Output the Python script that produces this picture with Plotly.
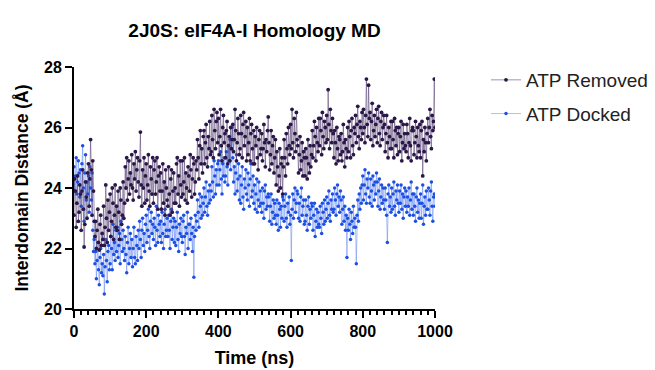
import plotly.graph_objects as go

time_ns = list(range(0, 1001, 2))

atp_removed = [
    23.1, 24.3, 23.9, 22.7, 23.5, 24.4, 22.9, 23.2, 24.1, 23.8,
    22.6, 23.9, 24.6, 23.3, 22.05, 22.8, 24.2, 23.7, 23.0, 24.5,
    24.8, 23.4, 24.3, 25.6, 24.6, 23.1, 24.9, 23.9, 22.9, 22.4,
    22.9, 22.0, 22.6, 23.3, 22.2, 21.95, 22.8, 23.1, 22.1, 22.5,
    22.3, 23.4, 22.1, 22.7, 24.1, 23.0, 22.2, 23.6, 22.6, 23.2,
    23.8, 22.4, 22.9, 24.0, 23.5, 22.3, 23.1, 24.1, 22.7, 23.4,
    22.6, 23.9, 23.2, 22.3, 24.0, 23.6, 22.8, 23.1, 24.2, 23.0,
    23.5, 24.7, 24.0, 25.0, 23.6, 24.3, 24.9, 23.8, 24.5, 24.1,
    25.1, 24.0, 23.6, 24.8, 24.3, 25.2, 23.9, 24.6, 25.0, 24.2,
    23.7, 24.9, 25.85, 24.1, 23.4, 24.6, 24.0, 25.0, 23.5, 24.4,
    24.8, 23.6, 24.1, 25.1, 23.9, 23.4, 24.7, 24.3, 23.8, 25.0,
    23.5, 24.6, 24.9, 23.8, 24.2, 25.0, 23.3, 24.4, 24.7, 23.9,
    24.5, 23.3, 23.9, 24.8, 23.5, 24.2, 23.1, 24.6, 24.0, 23.6,
    23.4, 24.7, 23.8, 23.1, 24.3, 24.6, 23.2, 23.9, 24.5, 23.5,
    24.0, 23.5, 24.8, 25.0, 23.8, 24.4, 23.4, 24.9, 24.1, 23.7,
    24.9, 23.8, 24.2, 25.0, 23.6, 24.5, 24.0, 23.5, 24.7, 24.4,
    23.9, 25.1, 24.6, 23.7, 24.3, 25.0, 24.8, 23.8, 24.2, 24.9,
    24.6, 25.6, 25.0, 24.3, 25.4, 25.9, 24.8, 25.3, 24.5, 25.7,
    25.9, 24.8, 25.5, 26.1, 25.0, 24.7, 25.7, 25.3, 26.2, 25.1,
    25.2, 26.4, 25.6, 25.0, 26.6, 25.9, 25.3, 26.2, 26.5, 25.5,
    26.3, 25.1, 25.7, 26.6, 25.4, 24.9, 26.0, 26.4, 25.5, 25.8,
    25.0, 25.9, 26.2, 24.8, 25.4, 25.7, 24.9, 26.0, 25.3, 25.6,
    26.1, 25.2, 25.6, 26.6, 25.9, 24.9, 25.5, 26.3, 25.8, 25.1,
    25.3, 26.4, 25.8, 25.0, 26.1, 26.5, 25.4, 25.7, 26.2, 24.9,
    26.0, 25.1, 25.5, 26.3, 24.9, 25.8, 26.1, 25.3, 24.8, 25.9,
    24.8, 25.7, 25.4, 26.0, 25.0, 24.6, 25.6, 25.9, 25.1, 25.3,
    25.8, 24.9, 25.3, 26.1, 25.5, 24.7, 25.6, 25.2, 25.9, 26.35,
    25.5, 24.6, 25.1, 25.9, 24.8, 25.4, 25.7, 24.5, 25.0, 25.6,
    24.1, 25.2, 24.7, 23.9, 24.4, 25.3, 24.0, 24.8, 25.0, 23.8,
    24.7, 25.6, 25.0, 24.4, 25.8, 25.3, 24.8, 26.0, 25.4, 25.1,
    26.1, 25.3, 26.6, 25.5, 25.0, 26.3, 25.8, 25.2, 26.5, 25.6,
    25.4, 24.5, 25.1, 25.7, 24.6, 24.9, 25.5, 24.4, 25.2, 25.0,
    24.4, 25.3, 25.0, 24.3, 25.6, 24.8, 24.5, 25.4, 24.7, 25.1,
    25.9, 25.0, 25.4, 26.2, 25.7, 24.9, 26.0, 25.5, 25.2, 26.3,
    25.4, 26.3, 25.9, 25.1, 26.5, 25.7, 25.3, 26.2, 26.0, 25.5,
    26.4, 25.6, 27.25, 26.1, 25.3, 26.6, 25.9, 25.5, 26.3, 25.8,
    25.0, 25.9, 25.5, 24.8, 26.0, 25.3, 24.9, 25.7, 25.6, 25.1,
    25.8, 24.9, 25.2, 26.1, 25.5, 24.7, 25.6, 25.3, 25.0, 26.0,
    25.2, 26.2, 25.7, 25.0, 25.9, 26.3, 25.4, 25.1, 26.0, 25.8,
    26.4, 25.5, 26.1, 26.7, 25.7, 25.3, 26.2, 26.0, 25.6, 26.5,
    25.8, 26.6, 26.0, 25.5, 26.4, 27.6, 26.1, 25.7, 27.4, 26.3,
    26.5, 25.6, 26.2, 26.8, 25.4, 25.9, 26.4, 25.7, 26.1, 26.6,
    25.5, 26.3, 26.7, 25.8, 25.4, 26.2, 26.5, 25.6, 26.0, 26.4,
    26.1, 25.2, 25.8, 26.4, 25.5, 25.0, 26.0, 25.7, 25.3, 26.2,
    25.3, 26.2, 25.6, 25.0, 26.3, 25.9, 25.4, 26.0, 25.1, 25.8,
    26.0, 25.2, 25.7, 26.2, 24.9, 25.5, 26.1, 25.3, 25.8, 25.4,
    25.2, 26.1, 25.8, 25.0, 25.5, 26.3, 25.4, 24.9, 25.9, 26.0,
    25.9, 25.1, 25.5, 26.2, 25.7, 25.0, 26.0, 25.4, 25.2, 26.1,
    25.0, 25.9, 26.2, 24.4, 25.6, 25.2, 26.0, 25.5, 24.9, 25.8,
    26.3, 25.5, 26.0, 26.6, 25.7, 25.3, 26.4, 25.9, 26.2, 27.6,
    26.0,
]

atp_docked = [
    24.7, 23.9, 24.4, 25.0, 23.8, 24.2, 24.9, 24.5, 23.7, 24.6,
    23.4, 24.8, 25.4, 24.0, 22.9, 24.5, 25.1, 23.6, 24.2, 23.8,
    24.4, 23.2, 24.7, 24.0, 23.6, 24.5, 22.6, 21.9, 22.3, 21.5,
    21.9, 21.0, 21.6, 22.2, 21.3, 20.8, 21.7, 22.0, 21.2, 21.5,
    21.1, 21.8, 20.5, 21.4, 22.3, 21.6, 20.9, 21.9, 22.1, 21.3,
    21.5, 22.4, 22.0, 21.3, 22.8, 21.8, 22.2, 21.6, 22.6, 21.9,
    22.7, 21.7, 22.1, 22.5, 21.5, 22.9, 22.3, 21.9, 22.6, 22.0,
    21.6, 22.4, 21.8, 21.2, 22.2, 22.7, 21.5, 22.0, 22.5, 21.7,
    22.3, 21.4, 22.0, 22.7, 21.7, 21.5, 22.4, 22.1, 21.6, 22.6,
    22.0, 22.9, 22.3, 21.7, 22.6, 23.0, 22.1, 22.5, 21.9, 22.8,
    23.1, 22.2, 22.6, 23.3, 22.4, 22.0, 22.9, 23.2, 22.5, 22.8,
    22.3, 23.0, 22.7, 22.1, 23.4, 22.6, 22.2, 23.1, 22.8, 22.4,
    22.9, 22.2, 23.2, 22.5, 22.0, 22.8, 23.3, 22.4, 22.6, 23.0,
    22.4, 23.1, 22.6, 22.0, 22.9, 23.3, 22.3, 22.7, 23.0, 22.2,
    22.9, 22.1, 22.7, 23.2, 22.3, 21.9, 22.8, 22.5, 23.0, 22.4,
    22.2, 22.9, 23.1, 22.4, 21.8, 22.7, 22.5, 23.2, 22.0, 22.8,
    22.8, 22.3, 23.0, 22.5, 21.9, 22.7, 21.05, 22.4, 23.1, 22.6,
    22.9, 23.6, 23.2, 22.7, 23.8, 23.4, 23.0, 23.7, 23.1, 23.5,
    24.0, 23.2, 23.7, 24.2, 23.4, 23.1, 23.9, 23.5, 24.1, 23.6,
    23.9, 24.7, 24.2, 23.7, 24.9, 24.4, 23.8, 24.6, 24.1, 24.8,
    24.9, 24.1, 24.6, 25.2, 24.3, 23.8, 24.8, 24.4, 25.0, 24.2,
    24.4, 25.2, 24.7, 24.1, 25.4, 24.9, 25.6, 24.6, 25.3, 26.0,
    25.0, 24.2, 24.7, 23.8, 24.5, 25.1, 23.9, 24.3, 24.8, 23.6,
    24.4, 23.5, 24.1, 24.7, 23.7, 23.3, 24.3, 24.0, 24.6, 23.8,
    23.6, 24.5, 24.1, 23.4, 24.3, 24.8, 23.7, 23.9, 24.4, 23.5,
    24.1, 23.3, 23.8, 24.3, 23.2, 23.6, 24.2, 23.4, 23.9, 23.5,
    23.2, 24.0, 23.5, 23.0, 23.9, 24.1, 23.3, 23.7, 23.4, 23.8,
    23.7, 22.9, 23.4, 23.8, 22.8, 23.2, 23.6, 23.0, 23.5, 23.1,
    22.8, 23.6, 23.1, 22.6, 23.5, 23.3, 22.7, 23.4, 23.0, 23.7,
    23.6, 22.9, 23.4, 23.8, 23.0, 22.7, 23.5, 23.2, 23.7, 22.8,
    23.1, 21.6, 23.3, 23.8, 23.0, 23.6, 24.0, 23.2, 23.5, 23.9,
    23.8, 23.0, 23.5, 22.9, 23.7, 24.0, 23.1, 23.4, 23.6, 22.8,
    22.9, 23.6, 23.1, 22.6, 23.4, 23.7, 22.8, 23.3, 23.0, 23.5,
    23.4, 22.6, 23.1, 23.5, 22.4, 22.9, 23.3, 22.7, 23.2, 22.8,
    22.7, 23.4, 23.0, 22.5, 23.5, 23.2, 22.8, 23.6, 22.9, 23.3,
    23.7, 23.0, 23.5, 23.9, 23.1, 22.9, 23.6, 23.3, 23.8, 23.2,
    23.3, 24.0, 23.6, 23.1, 23.8, 24.1, 23.4, 23.7, 23.2, 23.9,
    23.6, 22.8, 23.3, 23.7, 22.9, 23.4, 22.6, 23.1, 21.7, 23.0,
    22.6, 23.3, 22.8, 22.3, 23.2, 22.9, 22.5, 23.4, 22.7, 23.0,
    22.7, 21.5, 23.1, 23.6, 22.9, 23.8, 23.3, 24.0, 23.5, 24.1,
    24.4, 23.6, 24.1, 24.6, 23.8, 23.5, 24.3, 24.0, 24.5, 23.7,
    23.5, 24.3, 23.9, 23.4, 24.4, 24.1, 23.6, 24.2, 23.8, 24.5,
    24.2, 23.4, 23.9, 24.3, 23.3, 23.7, 24.1, 23.5, 24.0, 23.6,
    23.3, 24.0, 23.6, 23.1, 22.2, 23.8, 24.1, 23.4, 23.7, 23.2,
    24.0, 23.3, 23.8, 24.2, 23.4, 23.1, 23.9, 23.6, 24.1, 23.5,
    23.2, 23.9, 23.5, 24.1, 23.3, 23.8, 23.0, 23.7, 24.0, 23.4,
    23.9, 23.2, 23.7, 23.4, 24.0, 23.1, 23.6, 24.2, 23.3, 23.8,
    23.1, 23.8, 23.4, 22.9, 23.7, 24.0, 23.2, 23.6, 23.0, 23.5,
    23.8, 23.0, 23.5, 24.1, 22.8, 23.4, 23.7, 23.1, 23.9, 23.3,
    23.3, 24.0, 23.6, 23.1, 23.9, 24.2, 23.4, 22.9, 23.7, 23.8,
    23.4,
]

x_ticks = [0, 200, 400, 600, 800, 1000]
y_ticks = [20, 22, 24, 26, 28]

FONT = "Arial, Liberation Sans, Helvetica, sans-serif"

fig = go.Figure()
fig.add_trace(go.Scatter(
    x=time_ns, y=atp_docked, mode="lines+markers", name="ATP Docked",
    line=dict(color="rgba(70,115,240,0.45)", width=1),
    marker=dict(color="#1d4fe3", size=3.5),
    legendrank=2, legendgroup="b",
))
fig.add_trace(go.Scatter(
    x=time_ns, y=atp_removed, mode="lines+markers", name="ATP Removed",
    line=dict(color="rgba(80,60,110,0.55)", width=1),
    marker=dict(color="#2a1748", size=3.8),
    legendrank=1, legendgroup="a",
))

fig.update_layout(
    width=655, height=370,
    margin=dict(l=74, r=220, t=67, b=61),
    paper_bgcolor="white", plot_bgcolor="white",
    font=dict(family=FONT, color="black"),
    title=dict(text="<b>2J0S: eIF4A-I Homology MD</b>", x=0.5, xref="paper",
               y=1 - 30 / 370, yref="container", xanchor="center", yanchor="middle",
               font=dict(size=19, color="black")),
    legend=dict(x=486 / 655, y=1 - 61 / 370, xref="container", yref="container",
                xanchor="left", yanchor="top",
                font=dict(size=19, color="#222"), tracegroupgap=6,
                traceorder="grouped", borderwidth=0),
    showlegend=True,
)
fig.update_xaxes(
    range=[0, 1000], tickvals=x_ticks, showgrid=False, zeroline=False,
    showline=True, linecolor="black", linewidth=2,
    ticks="outside", ticklen=7, tickwidth=2, tickcolor="black",
    minor=dict(dtick=20, ticks="outside", ticklen=4, tickwidth=1.5, tickcolor="black"),
    tickfont=dict(size=16, family=FONT, color="black", weight="bold"),
    title=dict(text="<b>Time (ns)</b>", font=dict(size=18), standoff=12),
    automargin=False,
)
fig.update_yaxes(
    range=[20, 28], tickvals=y_ticks, showgrid=False, zeroline=False,
    showline=True, linecolor="black", linewidth=2,
    ticks="outside", ticklen=7, tickwidth=2, tickcolor="black",
    tickfont=dict(size=16, family=FONT, color="black", weight="bold"),
    title=dict(text="<b>Interdomain Distance (Å)</b>", font=dict(size=17.5), standoff=11),
    automargin=False,
)

fig.write_html("out.html", config={"displayModeBar": False},
               post_script="document.body.style.margin='0';")
